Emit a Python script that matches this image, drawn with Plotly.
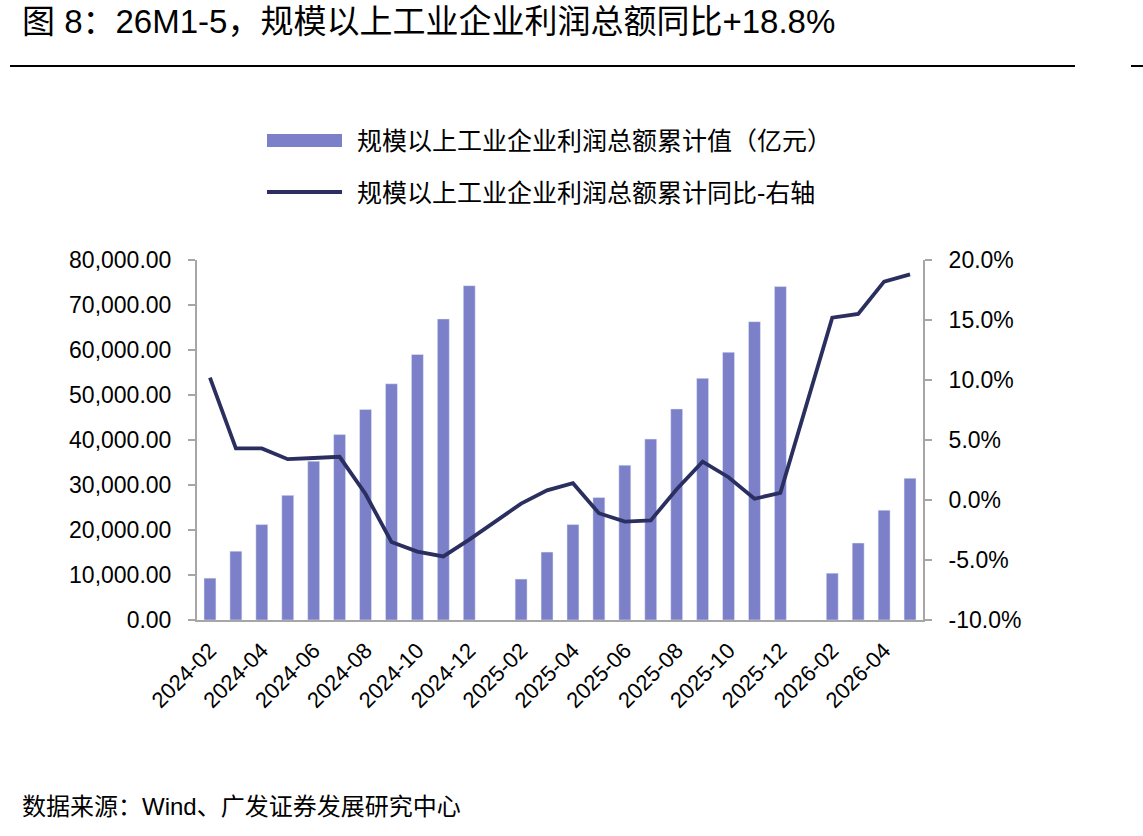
import plotly.graph_objects as go

months = ["2024-02", "2024-03", "2024-04", "2024-05", "2024-06", "2024-07", "2024-08",
          "2024-09", "2024-10", "2024-11", "2024-12", "2025-01", "2025-02", "2025-03",
          "2025-04", "2025-05", "2025-06", "2025-07", "2025-08", "2025-09", "2025-10",
          "2025-11", "2025-12", "2026-01", "2026-02", "2026-03", "2026-04", "2026-05"]
profit_cum = [9300, 15300, 21200, 27700, 35300, 41200, 46800, 52500, 59000, 66900, 74300, None,
              9100, 15100, 21200, 27200, 34400, 40200, 46900, 53700, 59500, 66300, 74100, None,
              10400, 17100, 24400, 31500]
profit_yoy = [10.2, 4.3, 4.3, 3.4, 3.5, 3.6, 0.5, -3.5, -4.3, -4.7, -3.3, None,
              -0.3, 0.8, 1.4, -1.1, -1.8, -1.7, 0.9, 3.2, 1.9, 0.1, 0.6, None,
              15.2, 15.5, 18.2, 18.8]
tick_labels = months[::2]
yoy_ticks = [-10, -5, 0, 5, 10, 15, 20]
yoy_tick_text = ["-10.0%", "-5.0%", "0.0%", "5.0%", "10.0%", "15.0%", "20.0%"]

bar_name = "规模以上工业企业利润总额累计值（亿元）"
line_name = "规模以上工业企业利润总额累计同比-右轴"
title_text = "图 8：26M1-5，规模以上工业企业利润总额同比+18.8%"
source_text = "数据来源：Wind、广发证券发展研究中心"

BAR_C = "#7B80C8"
LINE_C = "#2B2F60"
AXIS_C = "#A6A6A6"
W, H = 1143, 836
L, R, T, B = 197, 923, 260, 620

def px(x):
    return (x - L) / (R - L)

def py(y):
    return (B - y) / (B - T)

fig = go.Figure()
fig.add_trace(go.Bar(x=months, y=profit_cum, name=bar_name, marker_color=BAR_C,
                     width=0.46, showlegend=False))
fig.add_trace(go.Scatter(x=months, y=profit_yoy, name=line_name, yaxis="y2", mode="lines",
                         line=dict(color=LINE_C, width=3.8), connectgaps=True, showlegend=False))

mixed = "Liberation Sans, Arial, Noto Sans CJK SC"
num_font = dict(family="Liberation Sans, Arial, sans-serif", size=23, color="#000000")

fig.update_layout(
    width=W, height=H,
    margin=dict(l=L, r=W - R, t=T, b=H - B),
    plot_bgcolor="white", paper_bgcolor="white",
    xaxis=dict(type="category", categoryorder="array", categoryarray=months,
               tickmode="array", tickvals=tick_labels, ticktext=tick_labels,
               tickangle=-45, tickfont=dict(family="Liberation Sans, Arial", size=22, color="#000"),
               ticklabelstandoff=7,
               showline=True, linecolor=AXIS_C, linewidth=2, ticks="", showgrid=False,
               range=[-0.5, len(months) - 0.5]),
    yaxis=dict(range=[0, 80000], dtick=10000, tickformat=",.2f", tickfont=num_font,
               showline=True, linecolor=AXIS_C, linewidth=2, ticks="outside", ticklen=7,
               tickcolor=AXIS_C, tickwidth=2, showgrid=False, zeroline=False,
               ticklabelstandoff=12),
    yaxis2=dict(range=[-10, 20], tickmode="array", tickvals=yoy_ticks, ticktext=yoy_tick_text,
                tickfont=num_font,
                overlaying="y", side="right", showline=True, linecolor=AXIS_C, linewidth=2,
                ticks="outside", ticklen=7, tickcolor=AXIS_C, tickwidth=2, showgrid=False,
                zeroline=False, ticklabelstandoff=12),
)

shapes = [
    dict(type="line", xref="paper", yref="paper", x0=px(10), x1=px(1075), y0=py(66), y1=py(66),
         line=dict(color="#000", width=2)),
    dict(type="line", xref="paper", yref="paper", x0=px(1131), x1=px(1143), y0=py(66), y1=py(66),
         line=dict(color="#000", width=2)),
    dict(type="rect", xref="paper", yref="paper", x0=px(267), x1=px(342), y0=py(147), y1=py(134),
         fillcolor=BAR_C, line=dict(width=0)),
    dict(type="line", xref="paper", yref="paper", x0=px(267), x1=px(342), y0=py(192), y1=py(192),
         line=dict(color=LINE_C, width=4)),
]
fig.update_layout(shapes=shapes)

annotations = [
    dict(text=title_text, xref="paper", yref="paper", x=px(20), y=py(22), xanchor="left",
         yanchor="middle", showarrow=False,
         font=dict(family=mixed, size=33, color="#000")),
    dict(text=bar_name, xref="paper", yref="paper", x=px(355), y=py(141), xanchor="left",
         yanchor="middle", showarrow=False, font=dict(family=mixed, size=25, color="#000")),
    dict(text=line_name, xref="paper", yref="paper", x=px(355), y=py(193), xanchor="left",
         yanchor="middle", showarrow=False, font=dict(family=mixed, size=25, color="#000")),
    dict(text=source_text, xref="paper", yref="paper", x=px(20), y=py(806), xanchor="left",
         yanchor="middle", showarrow=False, font=dict(family=mixed, size=24, color="#000")),
]
fig.update_layout(annotations=annotations)

fig.write_html("out.html")
